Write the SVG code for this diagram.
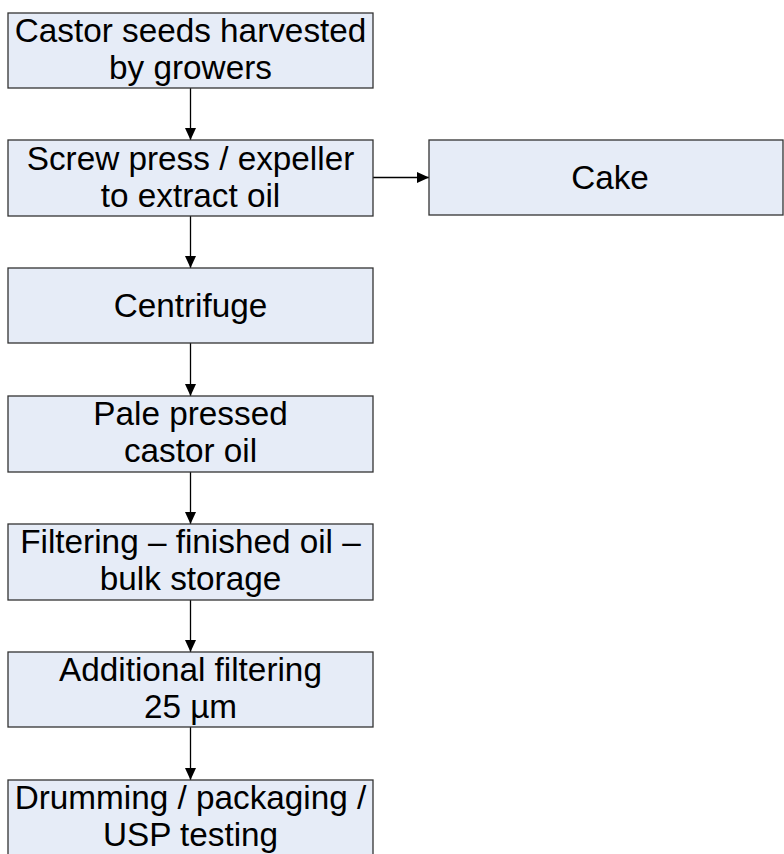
<svg xmlns="http://www.w3.org/2000/svg" width="784" height="854" viewBox="0 0 784 854">
<style>
.box{fill:#E6ECF7;stroke:#333333;stroke-width:1.3}
.t{font-family:"Liberation Sans",Arial,sans-serif;font-size:33.3px;fill:#000;text-anchor:middle}
.c{stroke:#000;stroke-width:1.3;fill:none;marker-end:url(#ah)}
</style>
<defs>
<marker id="ah" markerWidth="12" markerHeight="11" refX="12" refY="5.5" orient="auto" markerUnits="userSpaceOnUse">
<path d="M0,0 L12,5.5 L0,11 Z" fill="#000"/>
</marker>
</defs>
<rect width="784" height="854" fill="#fff"/>
<g id="connectors">
<line class="c" x1="190.5" y1="88" x2="190.5" y2="140"/>
<line class="c" x1="190.5" y1="216" x2="190.5" y2="268"/>
<line class="c" x1="190.5" y1="343" x2="190.5" y2="396"/>
<line class="c" x1="190.5" y1="472" x2="190.5" y2="524"/>
<line class="c" x1="190.5" y1="600" x2="190.5" y2="652"/>
<line class="c" x1="190.5" y1="727" x2="190.5" y2="780"/>
<line class="c" x1="373" y1="177.5" x2="429" y2="177.5"/>
</g>
<g id="n1"><rect class="box" x="8" y="13" width="365" height="75"/>
<text class="t" x="190.5" y="42">Castor seeds harvested</text>
<text class="t" x="190.5" y="79">by growers</text></g>
<g id="n2"><rect class="box" x="8" y="140" width="365" height="76"/>
<text class="t" x="190.5" y="170">Screw press / expeller</text>
<text class="t" x="190.5" y="207">to extract oil</text></g>
<g id="n3"><rect class="box" x="429" y="140" width="354" height="75"/>
<text class="t" x="610" y="189">Cake</text></g>
<g id="n4"><rect class="box" x="8" y="268" width="365" height="75"/>
<text class="t" x="190.5" y="317">Centrifuge</text></g>
<g id="n5"><rect class="box" x="8" y="396" width="365" height="76"/>
<text class="t" x="190.5" y="425">Pale pressed</text>
<text class="t" x="190.5" y="462">castor oil</text></g>
<g id="n6"><rect class="box" x="8" y="524" width="365" height="76"/>
<text class="t" x="190.5" y="553">Filtering – finished oil –</text>
<text class="t" x="190.5" y="590">bulk storage</text></g>
<g id="n7"><rect class="box" x="8" y="652" width="365" height="75"/>
<text class="t" x="190.5" y="681">Additional filtering</text>
<text class="t" x="190.5" y="718">25 µm</text></g>
<g id="n8"><rect class="box" x="8" y="780" width="365" height="76"/>
<text class="t" x="190.5" y="809">Drumming / packaging /</text>
<text class="t" x="190.5" y="846">USP testing</text></g>
</svg>
